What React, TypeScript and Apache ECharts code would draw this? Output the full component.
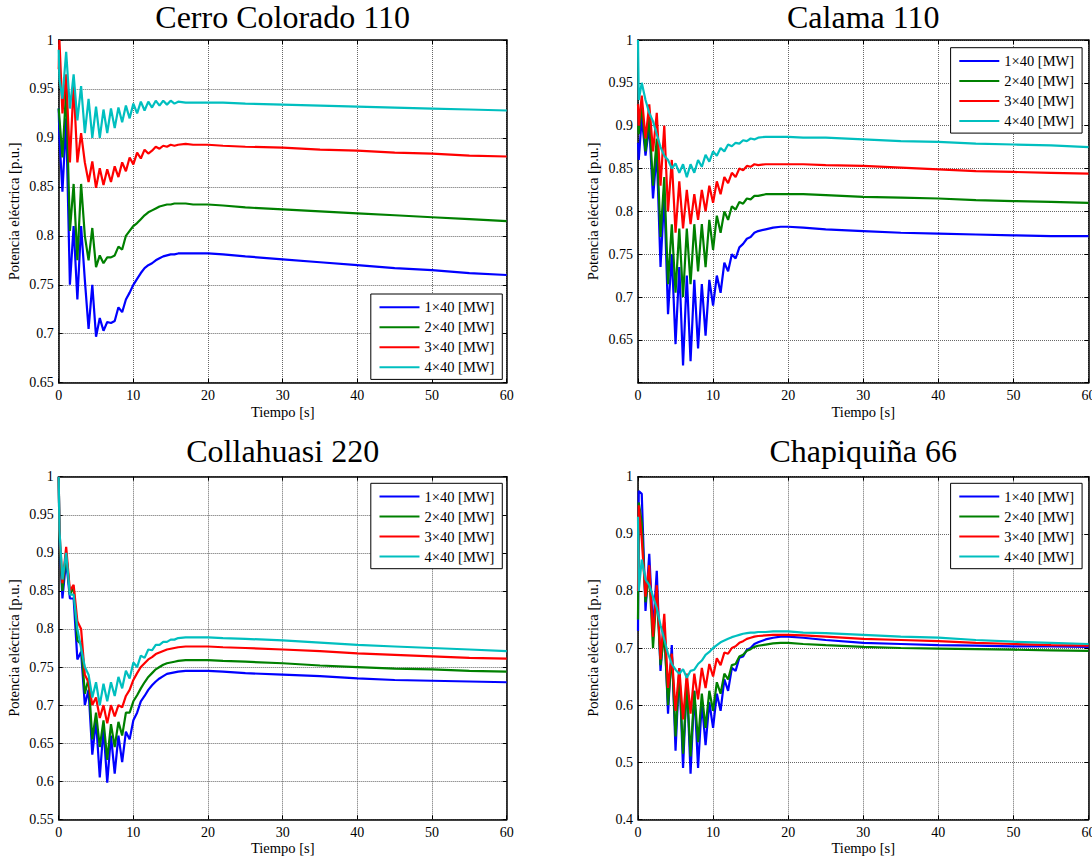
import { useEffect, useRef } from 'react';
import * as echarts from 'echarts';

// Shared time samples [s]
const T = [0, 0.1, 0.5, 1, 1.5, 2, 2.5, 3, 3.5, 4, 4.5, 5, 5.5, 6, 6.5, 7, 7.5, 8, 8.5, 9, 9.5, 10, 10.5, 11, 11.5, 12, 12.5, 13, 13.5, 14, 14.5, 15, 15.5, 16, 17, 18, 19, 20, 22, 25, 30, 35, 40, 45, 50, 55, 60];

const SERIES_NAMES = ['1×40 [MW]', '2×40 [MW]', '3×40 [MW]', '4×40 [MW]'];
const TITLES = ['Cerro Colorado 110', 'Calama 110', 'Collahuasi 220', 'Chapiquiña 66'];
const X_NAME = 'Tiempo [s]';
const Y_NAME = 'Potencia eléctrica [p.u.]';
const X_MIN = 0, X_MAX = 60, X_STEP = 10;
const Y_MIN = [0.65, 0.6, 0.55, 0.4];
const Y_MAX = [1, 1, 1, 1];
const Y_STEP = [0.05, 0.05, 0.05, 0.1];
const Y_HIDDEN_LABEL = [null, 0.6, null, null];

// Cerro Colorado 110
const ccBlue = [0.93, 0.90, 0.845, 0.92, 0.75, 0.81, 0.735, 0.81, 0.755, 0.705,
  0.75, 0.697, 0.716, 0.703, 0.712, 0.711, 0.713, 0.727, 0.722, 0.735,
  0.742, 0.75, 0.756, 0.762, 0.767, 0.770, 0.772, 0.775, 0.777, 0.779,
  0.780, 0.781, 0.781, 0.782, 0.782, 0.782, 0.782, 0.782, 0.781, 0.779,
  0.776, 0.773, 0.770, 0.767, 0.765, 0.762, 0.760];
const ccGreen = [0.93, 0.92, 0.88, 0.95, 0.805, 0.853, 0.775, 0.853, 0.80, 0.775,
  0.808, 0.768, 0.78, 0.772, 0.778, 0.778, 0.78, 0.789, 0.786, 0.80,
  0.805, 0.81, 0.813, 0.817, 0.821, 0.824, 0.826, 0.828, 0.830, 0.831,
  0.832, 0.832, 0.833, 0.833, 0.833, 0.832, 0.832, 0.832, 0.831, 0.829,
  0.827, 0.825, 0.823, 0.821, 0.819, 0.817, 0.815];
const ccRed = [0.97, 1.0, 0.925, 0.965, 0.875, 0.955, 0.875, 0.905, 0.875, 0.855,
  0.876, 0.849, 0.869, 0.852, 0.868, 0.855, 0.871, 0.86, 0.875, 0.866,
  0.88, 0.873, 0.885, 0.879, 0.888, 0.884, 0.887, 0.891, 0.889, 0.892,
  0.891, 0.893, 0.892, 0.893, 0.894, 0.893, 0.893, 0.893, 0.892, 0.891,
  0.890, 0.888, 0.887, 0.885, 0.884, 0.882, 0.881];
const ccCyan = [0.99, 0.96, 0.94, 0.988, 0.93, 0.965, 0.918, 0.953, 0.905, 0.94,
  0.90, 0.932, 0.90, 0.929, 0.905, 0.93, 0.91, 0.931, 0.916, 0.933,
  0.92, 0.935, 0.925, 0.937, 0.928, 0.937, 0.931, 0.938, 0.933, 0.938,
  0.934, 0.938, 0.935, 0.937, 0.936, 0.936, 0.936, 0.936, 0.936, 0.935,
  0.934, 0.933, 0.932, 0.931, 0.930, 0.929, 0.928];

// Calama 110
const calBlue = [0.88, 0.86, 0.91, 0.865, 0.90, 0.815, 0.87, 0.735, 0.82, 0.68,
  0.75, 0.645, 0.735, 0.62, 0.725, 0.625, 0.72, 0.64, 0.715, 0.655,
  0.72, 0.69, 0.725, 0.705, 0.74, 0.73, 0.75, 0.745, 0.758, 0.762,
  0.768, 0.77, 0.775, 0.777, 0.779, 0.781, 0.782, 0.782, 0.781, 0.779,
  0.777, 0.775, 0.774, 0.773, 0.772, 0.771, 0.771];
const calGreen = [0.90, 0.89, 0.925, 0.87, 0.91, 0.83, 0.885, 0.77, 0.84, 0.715,
  0.785, 0.705, 0.78, 0.70, 0.78, 0.715, 0.785, 0.73, 0.785, 0.735,
  0.79, 0.755, 0.795, 0.775, 0.80, 0.79, 0.806, 0.802, 0.811, 0.809,
  0.815, 0.814, 0.818, 0.818, 0.82, 0.82, 0.82, 0.82, 0.82, 0.819,
  0.817, 0.816, 0.815, 0.813, 0.812, 0.811, 0.81];
const calRed = [0.925, 0.90, 0.935, 0.885, 0.925, 0.87, 0.915, 0.83, 0.90, 0.80,
  0.86, 0.775, 0.835, 0.78, 0.825, 0.785, 0.82, 0.79, 0.825, 0.80,
  0.83, 0.81, 0.835, 0.82, 0.84, 0.833, 0.845, 0.84, 0.85, 0.848,
  0.853, 0.852, 0.855, 0.854, 0.855, 0.855, 0.855, 0.855, 0.855, 0.854,
  0.853, 0.851, 0.849, 0.847, 0.846, 0.845, 0.844];
const calCyan = [1.0, 0.93, 0.95, 0.93, 0.915, 0.905, 0.89, 0.875, 0.865, 0.86,
  0.85, 0.856, 0.845, 0.855, 0.84, 0.855, 0.845, 0.86, 0.852, 0.866,
  0.858, 0.87, 0.865, 0.874, 0.87, 0.878, 0.876, 0.88, 0.879, 0.883,
  0.882, 0.885, 0.884, 0.886, 0.887, 0.887, 0.887, 0.887, 0.886, 0.886,
  0.884, 0.882, 0.881, 0.879, 0.878, 0.877, 0.875];

// Collahuasi 220
const colBlue = [1.0, 0.92, 0.84, 0.89, 0.84, 0.84, 0.76, 0.77, 0.70, 0.72,
  0.635, 0.68, 0.605, 0.67, 0.598, 0.66, 0.61, 0.66, 0.625, 0.665,
  0.655, 0.68, 0.69, 0.705, 0.712, 0.72, 0.726, 0.731, 0.735, 0.738,
  0.741, 0.742, 0.743, 0.744, 0.745, 0.745, 0.745, 0.745, 0.744, 0.742,
  0.74, 0.738, 0.735, 0.733, 0.732, 0.731, 0.73];
const colGreen = [1.0, 0.92, 0.85, 0.90, 0.845, 0.855, 0.785, 0.78, 0.715, 0.735,
  0.655, 0.69, 0.645, 0.68, 0.628, 0.675, 0.645, 0.678, 0.66, 0.69,
  0.69, 0.705, 0.713, 0.722, 0.73, 0.737, 0.742, 0.747, 0.75, 0.753,
  0.755, 0.756, 0.757, 0.758, 0.759, 0.759, 0.759, 0.759, 0.758, 0.757,
  0.755, 0.752, 0.75, 0.748, 0.747, 0.745, 0.744];
const colRed = [1.0, 0.93, 0.86, 0.908, 0.85, 0.858, 0.81, 0.80, 0.74, 0.73,
  0.70, 0.71, 0.683, 0.70, 0.676, 0.70, 0.685, 0.70, 0.697, 0.712,
  0.72, 0.733, 0.742, 0.75, 0.755, 0.76, 0.763, 0.767, 0.769, 0.771,
  0.773, 0.774, 0.775, 0.776, 0.777, 0.777, 0.777, 0.777, 0.776, 0.775,
  0.773, 0.771, 0.768, 0.766, 0.764, 0.762, 0.761];
const colCyan = [1.0, 0.93, 0.865, 0.90, 0.845, 0.845, 0.80, 0.775, 0.75, 0.74,
  0.71, 0.73, 0.70, 0.728, 0.705, 0.73, 0.712, 0.737, 0.722, 0.745,
  0.735, 0.756, 0.75, 0.765, 0.762, 0.773, 0.772, 0.779, 0.779, 0.783,
  0.783, 0.786, 0.786, 0.788, 0.789, 0.789, 0.789, 0.789, 0.788, 0.787,
  0.785, 0.782, 0.779, 0.777, 0.775, 0.773, 0.771];

// Chapiquiña 66
const chpBlue = [0.73, 0.975, 0.97, 0.765, 0.865, 0.73, 0.835, 0.66, 0.745, 0.585,
  0.705, 0.52, 0.665, 0.49, 0.645, 0.48, 0.625, 0.49, 0.605, 0.53,
  0.605, 0.56, 0.62, 0.59, 0.645, 0.625, 0.665, 0.66, 0.683, 0.685,
  0.697, 0.70, 0.707, 0.71, 0.715, 0.718, 0.72, 0.72, 0.718, 0.714,
  0.709, 0.707, 0.705, 0.704, 0.703, 0.703, 0.702];
const chpGreen = [0.75, 0.955, 0.92, 0.78, 0.83, 0.70, 0.80, 0.67, 0.725, 0.60,
  0.69, 0.545, 0.66, 0.515, 0.635, 0.51, 0.625, 0.535, 0.62, 0.56,
  0.625, 0.59, 0.64, 0.62, 0.655, 0.645, 0.67, 0.672, 0.685, 0.688,
  0.695, 0.698, 0.702, 0.704, 0.706, 0.708, 0.709, 0.709, 0.707, 0.705,
  0.702, 0.70, 0.699, 0.698, 0.697, 0.696, 0.695];
const chpRed = [0.80, 0.95, 0.89, 0.79, 0.845, 0.72, 0.81, 0.68, 0.76, 0.63,
  0.69, 0.59, 0.665, 0.575, 0.655, 0.585, 0.655, 0.61, 0.665, 0.63,
  0.672, 0.65, 0.682, 0.67, 0.692, 0.69, 0.70, 0.703, 0.709, 0.712,
  0.716, 0.718, 0.72, 0.721, 0.722, 0.723, 0.723, 0.723, 0.722, 0.72,
  0.716, 0.714, 0.712, 0.709, 0.707, 0.705, 0.704];
const chpCyan = [0.93, 0.80, 0.855, 0.82, 0.81, 0.79, 0.77, 0.74, 0.715, 0.69,
  0.672, 0.662, 0.655, 0.663, 0.648, 0.66, 0.662, 0.672, 0.678, 0.688,
  0.693, 0.70, 0.705, 0.71, 0.713, 0.716, 0.719, 0.721, 0.723, 0.725,
  0.726, 0.727, 0.727, 0.728, 0.728, 0.729, 0.729, 0.729, 0.727, 0.726,
  0.723, 0.72, 0.718, 0.714, 0.711, 0.709, 0.707];

const PANEL_DATA = [
  [ccBlue, ccGreen, ccRed, ccCyan],
  [calBlue, calGreen, calRed, calCyan],
  [colBlue, colGreen, colRed, colCyan],
  [chpBlue, chpGreen, chpRed, chpCyan],
];

// ---- layout & style (not data) ----
const COLORS = ['#0000ff', '#008000', '#ff0000', '#00bfbf'];
const FONT = "'Liberation Serif', 'Times New Roman', serif";
const LAYOUT = [
  { left: 58.7, top: 40, width: 448, height: 342.7, legendLeft: 370.8, legendTop: 294, titleY: 16.5, xNameY: 411.5 },
  { left: 638, top: 40, width: 450.5, height: 342.7, legendLeft: 950.6, legendTop: 47.7, titleY: 16.5, xNameY: 411.5 },
  { left: 58.7, top: 476.7, width: 448, height: 342.6, legendLeft: 370.8, legendTop: 483.3, titleY: 451, xNameY: 848 },
  { left: 638, top: 476.7, width: 450.5, height: 342.6, legendLeft: 950.6, legendTop: 483.3, titleY: 451, xNameY: 848 },
];

function fmt(v: number) {
  return String(+v.toFixed(2));
}

function buildOption() {
  const grid: any[] = [];
  const xAxis: any[] = [];
  const yAxis: any[] = [];
  const series: any[] = [];
  const legend: any[] = [];
  const graphic: any[] = [];

  const axisLine = { show: true, onZero: false, lineStyle: { color: '#000', width: 1.5 } };
  const axisTick = { show: true, inside: true, length: 4, lineStyle: { color: '#000', width: 1 } };
  const splitLine = { show: true, lineStyle: { color: '#666', width: 1, type: [1, 1] } };
  const tickFont = { color: '#000', fontSize: 14, fontFamily: FONT, fontWeight: 'normal' };

  LAYOUT.forEach((L, i) => {
    grid.push({ left: L.left, top: L.top, width: L.width, height: L.height, containLabel: false, outerBoundsMode: 'none' });

    const xBase = { type: 'value', gridIndex: i, min: X_MIN, max: X_MAX, interval: X_STEP, axisLine, axisTick };
    xAxis.push({ ...xBase, position: 'bottom', splitLine,
      axisLabel: { ...tickFont, margin: 6, formatter: (v: number) => fmt(v) } });
    xAxis.push({ ...xBase, position: 'top', splitLine: { show: false }, axisLabel: { show: false } });

    const hidden = Y_HIDDEN_LABEL[i];
    const yBase = { type: 'value', gridIndex: i, min: Y_MIN[i], max: Y_MAX[i], interval: Y_STEP[i], axisLine, axisTick };
    yAxis.push({ ...yBase, position: 'left', splitLine,
      axisLabel: { ...tickFont, margin: 5,
        formatter: (v: number) => (hidden !== null && Math.abs(v - hidden) < 1e-6 ? '' : fmt(v)) } });
    yAxis.push({ ...yBase, position: 'right', splitLine: { show: false }, axisLabel: { show: false } });

    PANEL_DATA[i].forEach((vals, k) => {
      series.push({
        type: 'line', name: SERIES_NAMES[k], xAxisIndex: 2 * i, yAxisIndex: 2 * i,
        data: T.map((t, j) => [t, vals[j]]),
        symbol: 'none', showSymbol: false, smooth: false,
        lineStyle: { color: COLORS[k], width: 2.2 }, itemStyle: { color: COLORS[k] },
        emphasis: { disabled: true }, silent: true, z: 2 + k,
      });
    });

    legend.push({
      data: SERIES_NAMES.map((n, k) => ({ name: n, icon: 'path://M0,0H40V2H0Z', itemStyle: { color: COLORS[k] } })),
      orient: 'vertical', left: L.legendLeft, top: L.legendTop,
      itemWidth: 40, itemHeight: 14, itemGap: 5, padding: [5.7, 8, 4.7, 8.7],
      borderColor: '#000', borderWidth: 1, backgroundColor: '#fff', selectedMode: false,
      textStyle: { color: '#000', fontSize: 14.5, fontFamily: FONT, lineHeight: 14 },
    });

    const cx = L.left + L.width / 2;
    graphic.push({ type: 'text', x: cx, y: L.titleY, silent: true,
      style: { text: TITLES[i], fill: '#000', fontSize: 32, fontFamily: FONT, fontWeight: 'normal', align: 'center', verticalAlign: 'middle' } });
    graphic.push({ type: 'text', x: cx, y: L.xNameY, silent: true,
      style: { text: X_NAME, fill: '#000', fontSize: 14.5, fontFamily: FONT, fontWeight: 'normal', align: 'center', verticalAlign: 'middle' } });
    graphic.push({ type: 'text', x: L.left - 45, y: L.top + L.height / 2, rotation: Math.PI / 2, silent: true,
      style: { text: Y_NAME, fill: '#000', fontSize: 14.5, fontFamily: FONT, fontWeight: 'normal', align: 'center', verticalAlign: 'middle' } });
  });

  return {
    animation: false,
    backgroundColor: '#fff',
    textStyle: { fontFamily: FONT },
    grid, xAxis, yAxis, series, legend, graphic,
  };
}

export default function App() {
  const ref = useRef<HTMLDivElement>(null);
  useEffect(() => {
    const chart = echarts.init(ref.current!, undefined, { renderer: 'svg' });
    chart.setOption(buildOption() as any);
    return () => chart.dispose();
  }, []);
  return (
    <div
      ref={ref}
      style={{ position: 'absolute', left: 0, top: 0, width: 1092, height: 861, background: '#fff' }}
    />
  );
}
